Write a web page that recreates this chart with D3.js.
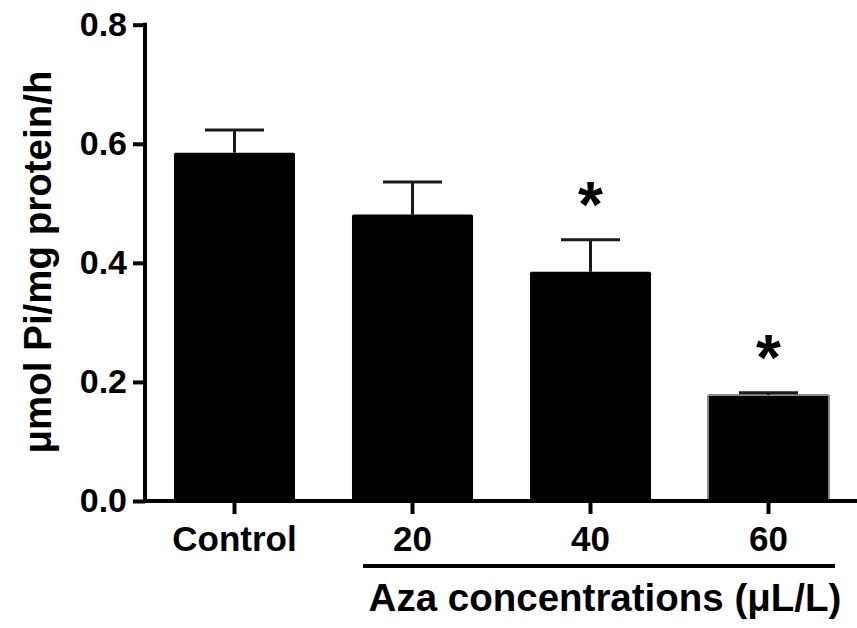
<!DOCTYPE html>
<html>
<head>
<meta charset="utf-8">
<script src="https://cdn.jsdelivr.net/npm/d3@7"></script>
<style>
  body { margin: 0; background: #fff; }
  text { font-family: 'Liberation Sans', Arial, sans-serif; font-weight: bold; fill: #000; }
</style>
</head>
<body>
<div id="chart"></div>
<script>
const categories = ['Control', '20', '40', '60']
const means = [0.585, 0.481, 0.385, 0.178]
const sems = [0.038, 0.055, 0.054, 0.004]
const significant = [false, false, true, true]
const yTicks = [0.0, 0.2, 0.4, 0.6, 0.8]

const W = 857
const H = 628
const axisX = 145
const axisY = 501

const svg = d3.select('#chart')
  .append('svg')
  .attr('width', W)
  .attr('height', H)

const x = d3.scaleBand()
  .domain(categories)
  .range([145.5, 857.5])
  .paddingInner(0.32)
  .paddingOuter(0.16)

const y = d3.scaleLinear()
  .domain([0, 0.8])
  .range([axisY, 24.7])

// bars
svg.selectAll('.bar')
  .data(categories)
  .enter().append('rect')
  .attr('class', 'bar')
  .attr('x', d => x(d))
  .attr('y', (d, i) => y(means[i]))
  .attr('width', x.bandwidth())
  .attr('height', (d, i) => y(0) - y(means[i]))
  .attr('rx', 1.5)
  .attr('fill', '#000')
  .attr('stroke', (d, i) => i === 3 ? '#8a8a8a' : 'none')
  .attr('stroke-width', 2)

// error bars (upper only)
const capW = 59
const err = svg.selectAll('.err')
  .data(categories)
  .enter().append('g')
  .attr('class', 'err')
  .attr('stroke', '#1a1a1a')
  .attr('stroke-width', 3)

err.append('line')
  .attr('x1', d => x(d) + x.bandwidth() / 2)
  .attr('x2', d => x(d) + x.bandwidth() / 2)
  .attr('y1', (d, i) => y(means[i]))
  .attr('y2', (d, i) => y(means[i] + sems[i]))

err.append('line')
  .attr('x1', d => x(d) + x.bandwidth() / 2 - capW / 2)
  .attr('x2', d => x(d) + x.bandwidth() / 2 + capW / 2)
  .attr('y1', (d, i) => y(means[i] + sems[i]))
  .attr('y2', (d, i) => y(means[i] + sems[i]))

// asterisks
svg.selectAll('.star')
  .data(categories.filter((d, i) => significant[i]))
  .enter().append('text')
  .attr('class', 'star')
  .attr('x', d => x(d) + x.bandwidth() / 2)
  .attr('y', d => {
    const i = categories.indexOf(d)
    return y(means[i] + sems[i]) - 13
  })
  .attr('text-anchor', 'middle')
  .style('font-size', '64px')
  .text('*')

// y axis
const yAxis = svg.append('g')
  .attr('transform', `translate(${axisX},0)`)
  .call(d3.axisLeft(y).tickValues(yTicks).tickFormat(d3.format('.1f')).tickSize(12).tickSizeOuter(0).tickPadding(6))
yAxis.select('.domain').attr('stroke-width', 4).attr('stroke', '#000')
  .attr('d', `M0,${y(0.8) - 2}V${axisY + 2}`)
yAxis.selectAll('.tick line').attr('stroke-width', 4).attr('stroke', '#000')
yAxis.selectAll('.tick text')
  .style('font-size', '34px')
  .style('font-family', "'Liberation Sans', Arial, sans-serif")
  .style('font-weight', 'bold')
  .attr('fill', '#000')

// x axis
const xAxis = svg.append('g')
  .attr('transform', `translate(0,${axisY})`)
  .call(d3.axisBottom(x).tickSize(13).tickSizeOuter(0).tickPadding(12))
xAxis.select('.domain').attr('stroke-width', 4).attr('stroke', '#000')
  .attr('d', `M${axisX - 2},0H${W}`)
xAxis.selectAll('.tick line').attr('stroke-width', 4).attr('stroke', '#000')
xAxis.selectAll('.tick text')
  .style('font-size', '35px')
  .style('font-family', "'Liberation Sans', Arial, sans-serif")
  .style('font-weight', 'bold')
  .attr('fill', '#000')

// bracket under treatment groups
svg.append('line')
  .attr('x1', 363)
  .attr('x2', 835)
  .attr('y1', 566)
  .attr('y2', 566)
  .attr('stroke', '#000')
  .attr('stroke-width', 4)

svg.append('text')
  .attr('x', 605)
  .attr('y', 611)
  .attr('text-anchor', 'middle')
  .style('font-size', '38.5px')
  .text('Aza concentrations (μL/L)')

// y axis title
svg.append('text')
  .attr('transform', `translate(51,${262}) rotate(-90)`)
  .attr('text-anchor', 'middle')
  .style('font-size', '38.5px')
  .text('μmol Pi/mg protein/h')
</script>
</body>
</html>
